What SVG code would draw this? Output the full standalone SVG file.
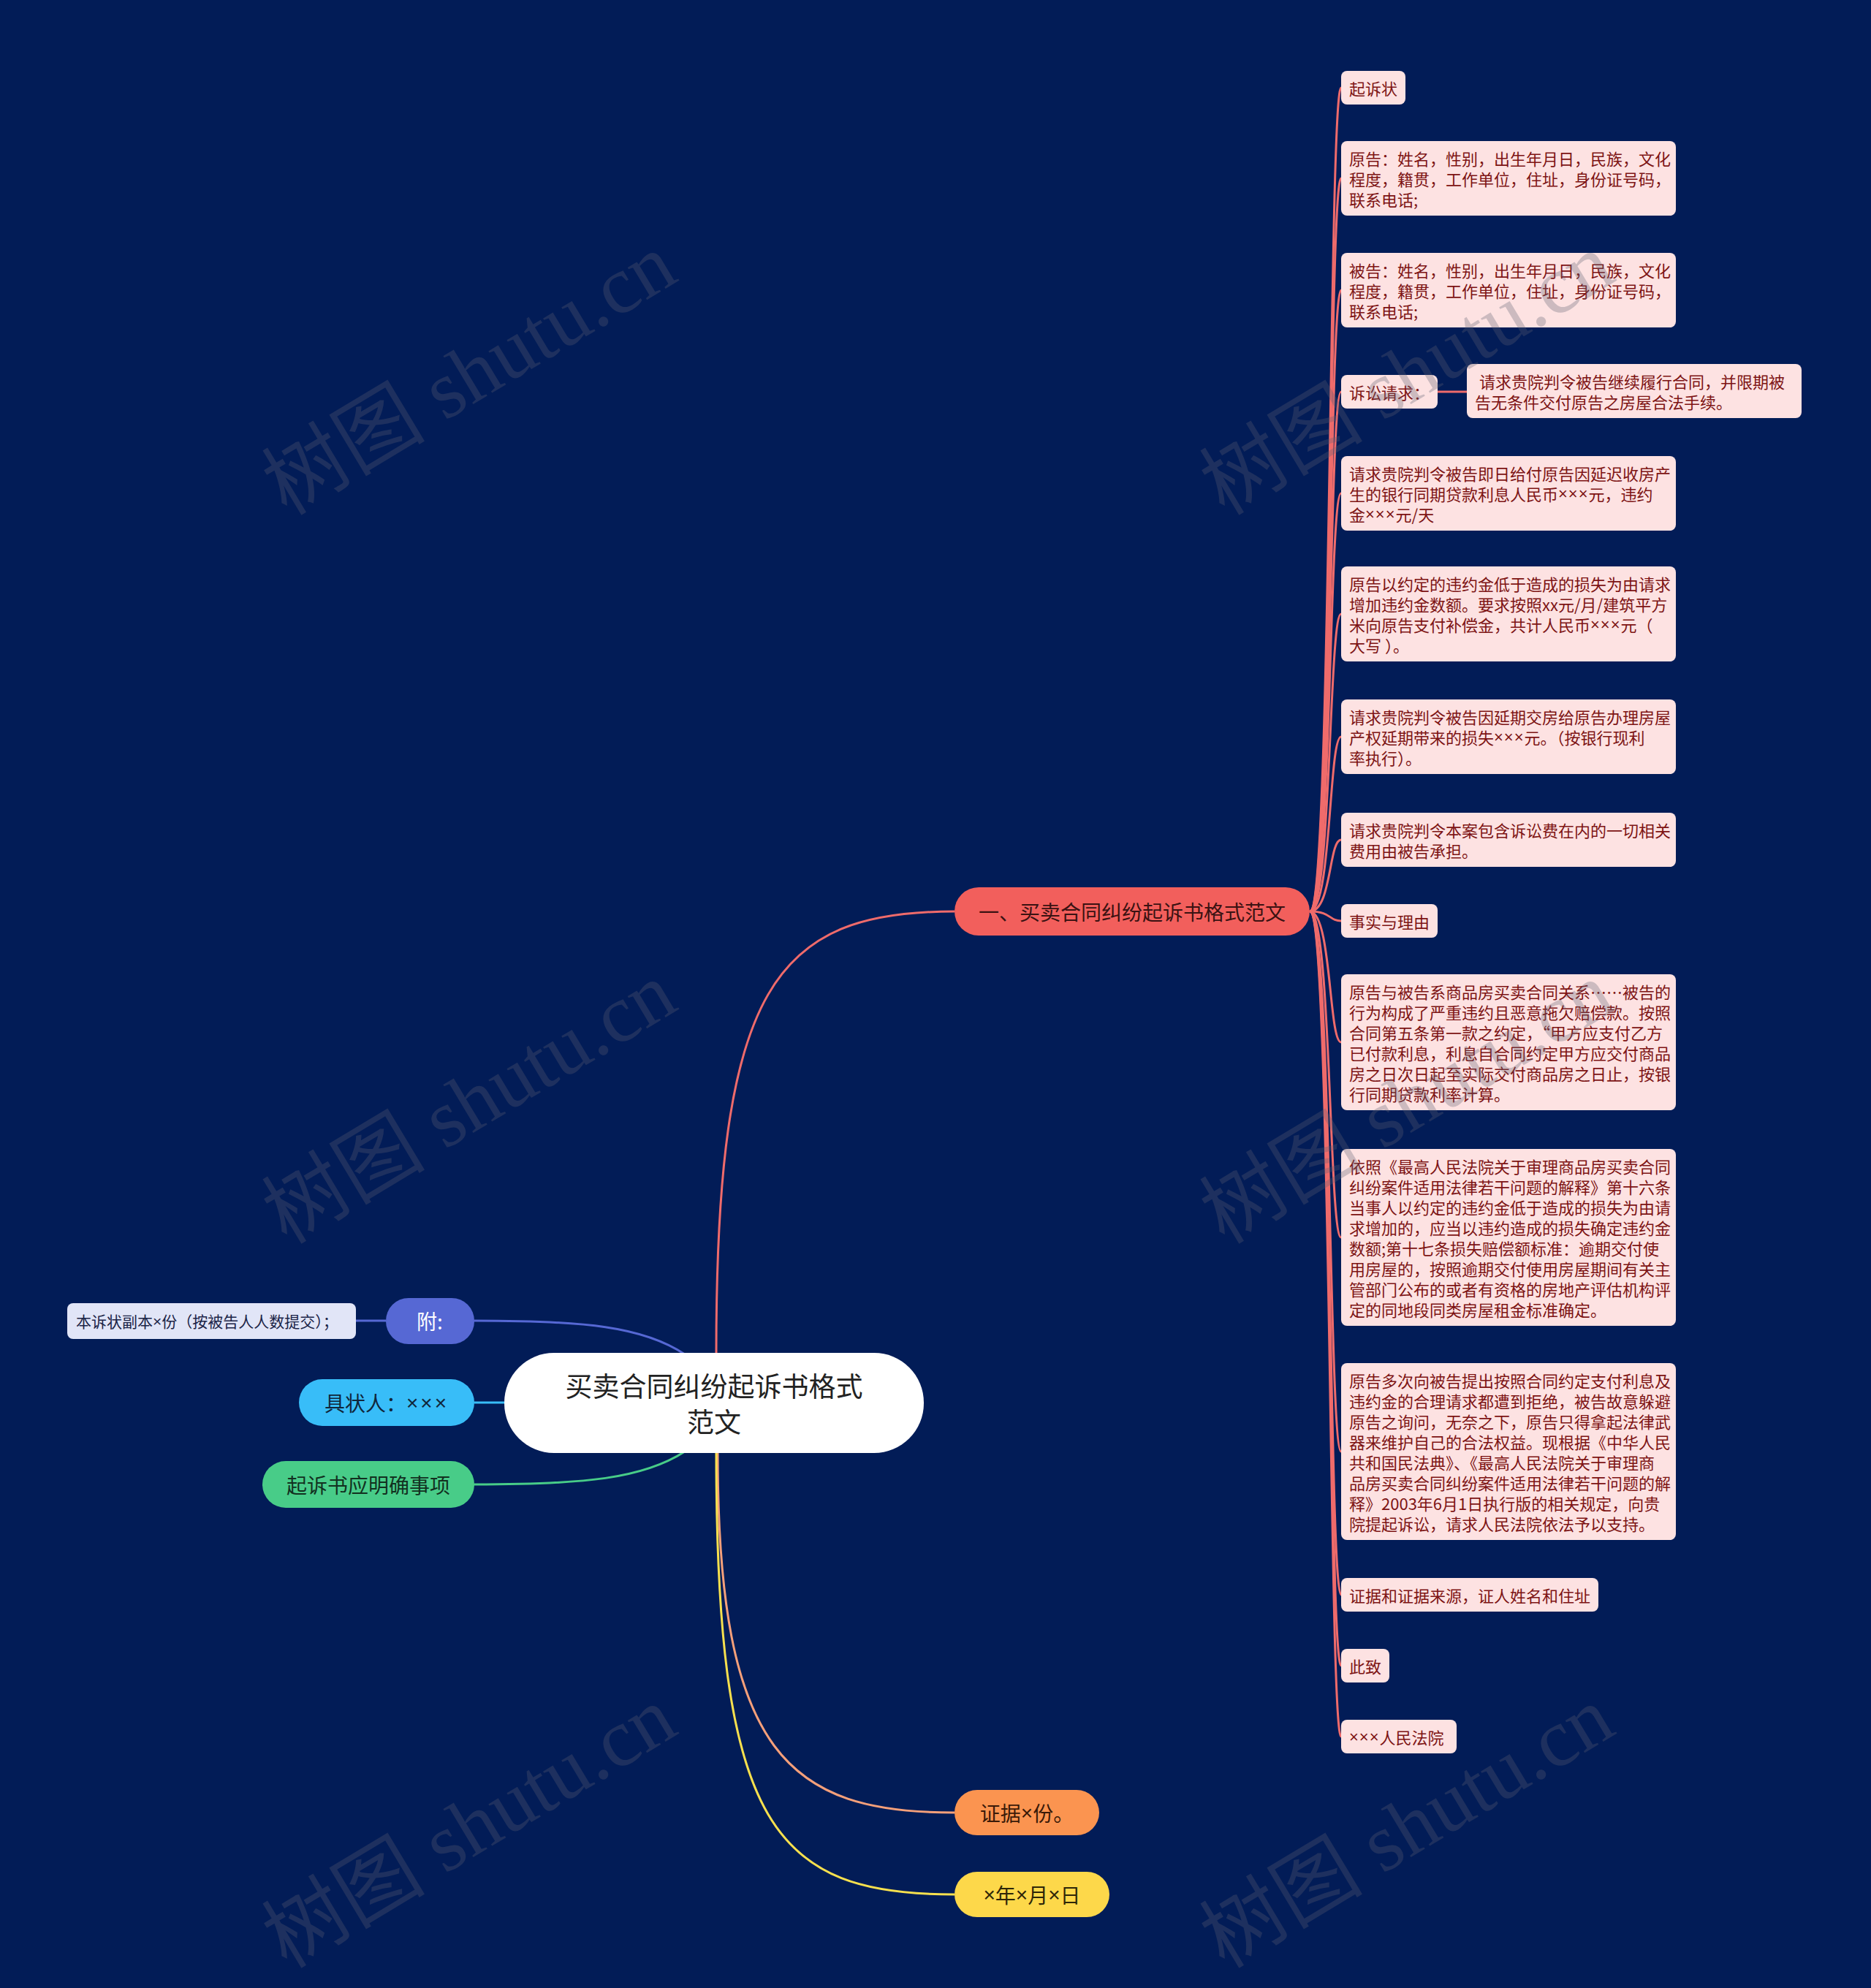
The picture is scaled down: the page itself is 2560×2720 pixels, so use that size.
<svg xmlns="http://www.w3.org/2000/svg" width="2560" height="2720" viewBox="0 0 2560 2720">
<style>
text{font-family:"Noto Sans CJK SC","Microsoft YaHei",sans-serif;dominant-baseline:central}
.x{font-family:"Liberation Sans","DejaVu Sans",sans-serif}
.leaf rect{fill:#fde2e2}
.leaf text{font-size:22px;fill:#7d1414}
.lc{fill:none;stroke:#ef6b6b;stroke-width:3}
.wm{font-family:"Liberation Serif","Noto Sans CJK SC",serif;font-size:112px;fill:#5e6072;opacity:0.3}
.big{font-size:28px;text-anchor:middle}
</style>
<rect width="2560" height="2720" fill="#021c57"/>
<g id="connectors">
<path class="lc" d="M980 1851 C980 1350 1060 1247 1306 1247"/>
<path fill="none" stroke="#f5a07a" stroke-width="3" d="M982 1988 C982 2400 1080 2480 1306 2480"/>
<path fill="none" stroke="#f7e04e" stroke-width="3" d="M980 1988 C980 2500 1060 2592 1306 2592"/>
<path fill="none" stroke="#5668d4" stroke-width="3" d="M649 1807 C800 1807 880 1815 937 1853"/>
<path fill="none" stroke="#5668d4" stroke-width="3" d="M487 1807 L528 1807"/>
<path fill="none" stroke="#38bdf8" stroke-width="3" d="M649 1919 L690 1919"/>
<path fill="none" stroke="#48cc88" stroke-width="3" d="M649 2031 C800 2031 880 2023 937 1986"/>
<path class="lc" d="M1792 1247 C1822 1247 1818 120 1835 120"/>
<path class="lc" d="M1792 1247 C1822 1247 1818 244 1835 244"/>
<path class="lc" d="M1792 1247 C1822 1247 1818 397 1835 397"/>
<path class="lc" d="M1792 1247 C1822 1247 1818 536 1835 536"/>
<path class="lc" d="M1967 536 L2007 536"/>
<path class="lc" d="M1792 1247 C1822 1247 1818 675 1835 675"/>
<path class="lc" d="M1792 1247 C1822 1247 1818 840 1835 840"/>
<path class="lc" d="M1792 1247 C1822 1247 1818 1008 1835 1008"/>
<path class="lc" d="M1792 1247 C1822 1247 1818 1149 1835 1149"/>
<path class="lc" d="M1792 1247 C1822 1247 1818 1260 1835 1260"/>
<path class="lc" d="M1792 1247 C1822 1247 1818 1426 1835 1426"/>
<path class="lc" d="M1792 1247 C1822 1247 1818 1693 1835 1693"/>
<path class="lc" d="M1792 1247 C1822 1247 1818 1986 1835 1986"/>
<path class="lc" d="M1792 1247 C1822 1247 1818 2182 1835 2182"/>
<path class="lc" d="M1792 1247 C1822 1247 1818 2279 1835 2279"/>
<path class="lc" d="M1792 1247 C1822 1247 1818 2376 1835 2376"/>
</g>
<g id="root">
<rect x="690" y="1851" width="574" height="137" rx="68" fill="#ffffff"/>
<text x="977" y="1895" font-size="37" text-anchor="middle" fill="#222">买卖合同纠纷起诉书格式</text>
<text x="977" y="1944" font-size="37" text-anchor="middle" fill="#222">范文</text>
</g>
<g id="branch-main">
<rect x="1306" y="1214" width="486" height="66" rx="33" fill="#f25f5c"/>
<text class="big" x="1549" y="1247" fill="#3a1212">一、买卖合同纠纷起诉书格式范文</text>
</g>
<g id="branch-fu">
<rect x="528" y="1776" width="121" height="63" rx="31" fill="#5668d4"/>
<text class="big" x="588" y="1807" fill="#ffffff">附:</text>
</g>
<g id="leaf-fu">
<rect x="92" y="1783" width="395" height="49" rx="8" fill="#e1e5f7"/>
<text x="104" y="1807" font-size="21" fill="#1b2447">本诉状副本<tspan class="x">×</tspan>份（按被告人人数提交）；</text>
</g>
<g id="branch-jzr">
<rect x="409" y="1887" width="240" height="64" rx="32" fill="#38bdf8"/>
<text class="big" x="529" y="1919" fill="#10263a">具状人：<tspan class="x" letter-spacing="3">×××</tspan></text>
</g>
<g id="branch-qss">
<rect x="359" y="1999" width="290" height="64" rx="32" fill="#48cc88"/>
<text class="big" x="504" y="2031" fill="#12301f">起诉书应明确事项</text>
</g>
<g id="branch-zj">
<rect x="1306" y="2449" width="198" height="62" rx="31" fill="#fb9450"/>
<text class="big" x="1405" y="2480" fill="#3a1a08">证据<tspan class="x">×</tspan>份。</text>
</g>
<g id="branch-date">
<rect x="1306" y="2561" width="212" height="62" rx="31" fill="#fdd84a"/>
<text class="big" x="1412" y="2592" fill="#2e2608"><tspan class="x">×</tspan>年<tspan class="x">×</tspan>月<tspan class="x">×</tspan>日</text>
</g>
<g id="leaf1" class="leaf"><rect x="1835" y="97" width="88" height="46" rx="8"/><text x="1846" y="120">起诉状</text></g>
<g id="leaf2" class="leaf"><rect x="1835" y="193" width="458" height="102" rx="8"/>
<text x="1846" y="216">原告：姓名，性别，出生年月日，民族，文化</text>
<text x="1846" y="244">程度，籍贯，工作单位，住址，身份证号码，</text>
<text x="1846" y="272">联系电话;</text></g>
<g id="leaf3" class="leaf"><rect x="1835" y="346" width="458" height="102" rx="8"/>
<text x="1846" y="369">被告：姓名，性别，出生年月日，民族，文化</text>
<text x="1846" y="397">程度，籍贯，工作单位，住址，身份证号码，</text>
<text x="1846" y="425">联系电话;</text></g>
<g id="leaf4" class="leaf"><rect x="1835" y="513" width="132" height="46" rx="8"/><text x="1846" y="536">诉讼请求：</text></g>
<g id="leaf4a" class="leaf"><rect x="2007" y="498" width="458" height="74" rx="8"/>
<text x="2024" y="521">请求贵院判令被告继续履行合同，并限期被</text>
<text x="2018" y="549">告无条件交付原告之房屋合法手续。</text></g>
<g id="leaf5" class="leaf"><rect x="1835" y="624" width="458" height="102" rx="8"/>
<text x="1846" y="647">请求贵院判令被告即日给付原告因延迟收房产</text>
<text x="1846" y="675">生的银行同期贷款利息人民币<tspan class="x" letter-spacing="1">×××</tspan>元，违约</text>
<text x="1846" y="703">金<tspan class="x" letter-spacing="1">×××</tspan>元/天</text></g>
<g id="leaf6" class="leaf"><rect x="1835" y="775" width="458" height="130" rx="8"/>
<text x="1846" y="798">原告以约定的违约金低于造成的损失为由请求</text>
<text x="1846" y="826">增加违约金数额。要求按照xx元/月/建筑平方</text>
<text x="1846" y="854">米向原告支付补偿金，共计人民币<tspan class="x" letter-spacing="1">×××</tspan>元（</text>
<text x="1846" y="882">大写 ）。</text></g>
<g id="leaf7" class="leaf"><rect x="1835" y="957" width="458" height="102" rx="8"/>
<text x="1846" y="980">请求贵院判令被告因延期交房给原告办理房屋</text>
<text x="1846" y="1008">产权延期带来的损失<tspan class="x" letter-spacing="1">×××</tspan>元。（按银行现利</text>
<text x="1846" y="1036">率执行）。</text></g>
<g id="leaf8" class="leaf"><rect x="1835" y="1112" width="458" height="74" rx="8"/>
<text x="1846" y="1135">请求贵院判令本案包含诉讼费在内的一切相关</text>
<text x="1846" y="1163">费用由被告承担。</text></g>
<g id="leaf9" class="leaf"><rect x="1835" y="1237" width="132" height="46" rx="8"/><text x="1846" y="1260">事实与理由</text></g>
<g id="leaf10" class="leaf"><rect x="1835" y="1333" width="458" height="186" rx="8"/>
<text x="1846" y="1356">原告与被告系商品房买卖合同关系……被告的</text>
<text x="1846" y="1384">行为构成了严重违约且恶意拖欠赔偿款。按照</text>
<text x="1846" y="1412">合同第五条第一款之约定，“甲方应支付乙方</text>
<text x="1846" y="1440">已付款利息，利息自合同约定甲方应交付商品</text>
<text x="1846" y="1468">房之日次日起至实际交付商品房之日止，按银</text>
<text x="1846" y="1496">行同期贷款利率计算。</text></g>
<g id="leaf11" class="leaf"><rect x="1835" y="1572" width="458" height="242" rx="8"/>
<text x="1846" y="1595">依照《最高人民法院关于审理商品房买卖合同</text>
<text x="1846" y="1623">纠纷案件适用法律若干问题的解释》第十六条</text>
<text x="1846" y="1651">当事人以约定的违约金低于造成的损失为由请</text>
<text x="1846" y="1679">求增加的，应当以违约造成的损失确定违约金</text>
<text x="1846" y="1707">数额;第十七条损失赔偿额标准：逾期交付使</text>
<text x="1846" y="1735">用房屋的，按照逾期交付使用房屋期间有关主</text>
<text x="1846" y="1763">管部门公布的或者有资格的房地产评估机构评</text>
<text x="1846" y="1791">定的同地段同类房屋租金标准确定。</text></g>
<g id="leaf12" class="leaf"><rect x="1835" y="1865" width="458" height="242" rx="8"/>
<text x="1846" y="1888">原告多次向被告提出按照合同约定支付利息及</text>
<text x="1846" y="1916">违约金的合理请求都遭到拒绝，被告故意躲避</text>
<text x="1846" y="1944">原告之询问，无奈之下，原告只得拿起法律武</text>
<text x="1846" y="1972">器来维护自己的合法权益。现根据《中华人民</text>
<text x="1846" y="2000">共和国民法典》、《最高人民法院关于审理商</text>
<text x="1846" y="2028">品房买卖合同纠纷案件适用法律若干问题的解</text>
<text x="1846" y="2056">释》2003年6月1日执行版的相关规定，向贵</text>
<text x="1846" y="2084">院提起诉讼，请求人民法院依法予以支持。</text></g>
<g id="leaf13" class="leaf"><rect x="1835" y="2159" width="352" height="46" rx="8"/><text x="1846" y="2182">证据和证据来源，证人姓名和住址</text></g>
<g id="leaf14" class="leaf"><rect x="1835" y="2256" width="66" height="46" rx="8"/><text x="1846" y="2279">此致</text></g>
<g id="leaf15" class="leaf"><rect x="1835" y="2353" width="158" height="46" rx="8"/><text x="1846" y="2376"><tspan class="x" letter-spacing="1">×××</tspan>人民法院</text></g>
<g id="watermarks">
<text class="wm" x="642" y="512" text-anchor="middle" transform="rotate(-31 642 512)">树图 shutu.cn</text>
<text class="wm" x="642" y="1509" text-anchor="middle" transform="rotate(-31 642 1509)">树图 shutu.cn</text>
<text class="wm" x="642" y="2500" text-anchor="middle" transform="rotate(-31 642 2500)">树图 shutu.cn</text>
<text class="wm" x="1925" y="512" text-anchor="middle" transform="rotate(-31 1925 512)">树图 shutu.cn</text>
<text class="wm" x="1925" y="1509" text-anchor="middle" transform="rotate(-31 1925 1509)">树图 shutu.cn</text>
<text class="wm" x="1925" y="2500" text-anchor="middle" transform="rotate(-31 1925 2500)">树图 shutu.cn</text>
</g>
</svg>
